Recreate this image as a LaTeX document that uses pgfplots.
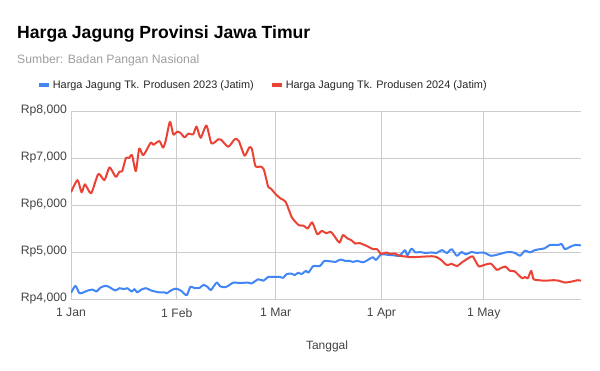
\documentclass[border=0pt]{standalone}
\usepackage{pgfplots}
\pgfplotsset{compat=1.18}
\usepackage{fontspec}
\setmainfont{Liberation Sans}
\definecolor{gblue}{HTML}{4285F4}
\definecolor{gred}{HTML}{EA4335}
\definecolor{gridc}{HTML}{CCCCCC}
\definecolor{ticktext}{HTML}{444444}
\definecolor{subt}{HTML}{9E9E9E}
\begin{document}
\begin{tikzpicture}
\path[use as bounding box] (0bp,0bp) rectangle (600bp,-371bp);
\node[anchor=base west, inner sep=0pt, font=\fontsize{17.6bp}{20bp}\selectfont\bfseries] at (17bp,-38bp) {Harga Jagung Provinsi Jawa Timur};
\node[anchor=base west, inner sep=0pt, text=subt, font=\fontsize{12.2bp}{14bp}\selectfont] at (17bp,-63bp) {Sumber: Badan Pangan Nasional};
\begin{axis}[
  at={(71bp,-299bp)}, anchor=south west,
  scale only axis, width=510bp, height=188bp,
  xmin=0, xmax=149.5, ymin=4000, ymax=8000,
  xtick={0,31,60,91,121},
  xticklabels={1 Jan,1 Feb,1 Mar,1 Apr,1 May},
  ytick={4000,5000,6000,7000,8000},
  yticklabels={{Rp4,000},{Rp5,000},{Rp6,000},{Rp7,000},{Rp8,000}},
  grid=major,
  major grid style={draw=gridc, line width=0.8bp},
  axis line style={draw=none},
  tick style={draw=none},
  ticklabel style={font=\fontsize{12.2bp}{14bp}\selectfont, text=ticktext},
  yticklabel style={xshift=-0.5bp},
  xticklabel style={yshift=-6bp},
  xlabel={Tanggal},
  xlabel style={at={(axis description cs:0.502,-0.25)}, anchor=center, font=\fontsize{12bp}{14bp}\selectfont, text=ticktext},
  legend columns=2,
  legend style={at={(axis description cs:-0.067,1.136)}, anchor=west, draw=none, fill=none, inner sep=0pt, outer sep=0pt,
    font=\fontsize{10.9bp}{13bp}\selectfont, text=black!85,
    /tikz/every even column/.append style={column sep=14bp}},
  legend image code/.code={\draw[#1, line width=4bp] (0bp,0bp) -- (10bp,0bp);},
  legend cell align=left,
]
\addplot[gblue, line width=2bp, line join=round, smooth, tension=0.4] coordinates {
(0,4130) (1.3,4280) (2.4,4130) (3.3,4130) (4.9,4180) (6.3,4200) (7.5,4160) (8.6,4240) (10,4280) (11.1,4260) (13,4180) (14.2,4230) (15.6,4210) (16.5,4230) (17.8,4160) (18.6,4210) (19.4,4140) (20.6,4200) (22,4230) (23.5,4180) (24.6,4160) (26,4140) (27.5,4140) (28,4120) (29.5,4190) (30.8,4220) (32.2,4180) (33.9,4080) (35,4260) (36.3,4230) (37.8,4240) (38.8,4300) (40,4260) (41,4190) (42.7,4350) (43.7,4270) (45.1,4250) (46.1,4280) (47.6,4350) (49.6,4340) (51.9,4350) (52.9,4330) (54.9,4420) (56.4,4390) (57.8,4470) (59.3,4470) (61.2,4470) (62.2,4450) (63.2,4530) (64.6,4540) (65.6,4510) (66.6,4560) (67.6,4530) (68.9,4600) (69.6,4560) (71,4700) (72.9,4700) (74.3,4810) (76.2,4800) (77.6,4790) (79,4840) (80.4,4810) (81.6,4810) (82.6,4790) (84,4810) (85.6,4780) (87,4830) (88.5,4890) (89.4,4830) (90.9,4950) (92.8,4940) (94.6,4930) (96.3,4920) (97.9,5040) (98.6,4930) (99.8,5070) (101,4990) (102.3,5000) (103.8,4980) (105.8,4990) (107.2,4980) (108.7,5040) (110.2,4980) (111.6,5060) (113.1,4920) (114.5,5000) (115.7,4950) (117.4,5000) (118.9,4980) (120.9,4990) (123.1,4920) (125.3,4950) (127.3,4990) (128.7,5000) (130.2,4980) (131.6,4920) (133.1,5030) (134.5,4990) (136,5040) (137.4,5060) (138.9,5080) (140.4,5150) (142.9,5150) (143.8,5170) (144.8,5060) (146.3,5110) (147.8,5150) (149.5,5140)
};
\addlegendentry{Harga Jagung Tk. Produsen 2023 (Jatim)}
\addplot[gred, line width=2bp, line join=round, smooth, tension=0.4] coordinates {
(0,6270) (1.9,6530) (3.1,6270) (4.1,6440) (5.9,6250) (8,6660) (9.8,6530) (11.3,6800) (13.1,6600) (14.2,6710) (15,6720) (16.1,7000) (17,7000) (17.9,7060) (19,6720) (20,7200) (21.2,7060) (23.4,7330) (24.1,7280) (25.9,7360) (27,7220) (27.8,7380) (29,7770) (30,7500) (31.1,7560) (32,7540) (33.3,7440) (34.4,7520) (35.8,7500) (36.8,7670) (38,7430) (39.7,7690) (41.2,7310) (43.2,7400) (44,7390) (46.1,7240) (48,7400) (49.2,7360) (50.9,7050) (52.2,7220) (53,7200) (54.1,6820) (55.4,6820) (56.5,6760) (57.8,6390) (58.6,6350) (60,6230) (61.4,6140) (62.9,6070) (64.8,5730) (66.8,5570) (68.2,5560) (69.4,5500) (70.7,5630) (72.2,5380) (73.5,5450) (74.8,5400) (76.1,5430) (77,5360) (78.7,5200) (79.7,5360) (81,5290) (82.2,5250) (83.3,5180) (84.6,5190) (86,5150) (87.2,5110) (88.5,5060) (89.7,5060) (90.9,4960) (92.4,4990) (93.7,4960) (94.9,4970) (96.3,4920) (98.5,4900) (99.9,4890) (102.9,4900) (105.8,4910) (107.2,4890) (108.5,4830) (110.2,4720) (111.6,4750) (113.1,4700) (114.8,4790) (116.3,4860) (117.7,4910) (118.7,4790) (119.6,4690) (120.9,4720) (123.1,4750) (124.8,4620) (125.8,4650) (127.3,4690) (128.7,4600) (130,4590) (131.2,4510) (132.3,4440) (133.1,4470) (133.9,4440) (134.9,4600) (135.6,4420) (137.1,4400) (139,4390) (141.5,4400) (142.9,4390) (144.8,4350) (146.7,4370) (148.5,4400) (149.5,4390)
};
\addlegendentry{Harga Jagung Tk. Produsen 2024 (Jatim)}
\end{axis}
\end{tikzpicture}
\end{document}
